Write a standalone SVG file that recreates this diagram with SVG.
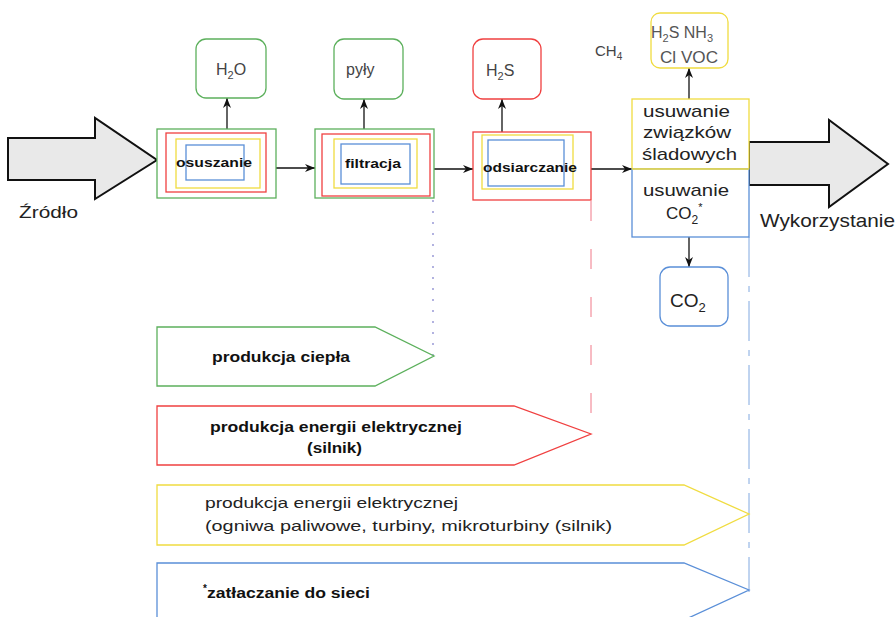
<svg xmlns="http://www.w3.org/2000/svg" width="896" height="617" viewBox="0 0 896 617">
<defs>
<marker id="ah" viewBox="0 0 10 8" refX="10" refY="4" markerWidth="10" markerHeight="8" markerUnits="userSpaceOnUse" orient="auto">
<path d="M0,0 L10,4 L0,8 L3,4 Z" fill="#111"/>
</marker>
</defs>
<style>
text{font-family:"Liberation Sans",Arial,sans-serif;}
.lbl{font-size:16px;fill:#444;}
.bx{font-size:13.5px;font-weight:bold;fill:#111;}
.big{font-size:17px;fill:#222;}
.pb{font-size:14.5px;font-weight:bold;fill:#111;}
.pn{font-size:15px;fill:#222;}
.con{stroke:#111;stroke-width:1.3;fill:none;marker-end:url(#ah);}
.g{stroke:#5cb05c;}
.r{stroke:#f04040;}
.y{stroke:#f0dc40;}
.b{stroke:#5a8fd8;}
rect,polygon{fill:none;stroke-width:1.3;}
.fat{fill:#e9e9e9;stroke:#111;stroke-width:2;}
</style>
<rect x="0" y="0" width="896" height="617" fill="#ffffff"/>
<rect x="8" y="10" width="888" height="607" fill="#f7f7f7" stroke="none"/>

<g id="zrodlo">
<polygon class="fat" points="8,138 95,138 95,118 157,160 95,199 95,180 8,180"/>
<text class="big" x="19" y="218" textLength="59" lengthAdjust="spacingAndGlyphs">Źródło</text>
</g>

<g id="wykorzystanie">
<polygon class="fat" points="749,142 829,142 829,120 888,164 829,207 829,185 749,185"/>
<text class="big" x="760" y="227" textLength="135" lengthAdjust="spacingAndGlyphs" style="font-size:19px">Wykorzystanie</text>
</g>

<g id="connectors">
<path class="con" d="M276,168 H315"/>
<path class="con" d="M434,169 H473"/>
<path class="con" d="M591,169 H632"/>
<path class="con" d="M227,129 V98"/>
<path class="con" d="M364,129 V99"/>
<path class="con" d="M502,132 V99"/>
<path class="con" d="M689,99 V68"/>
<path class="con" d="M689,237 V267"/>
<path d="M433,200 V355" stroke="#8a8ad0" stroke-width="1.3" stroke-dasharray="2 9" fill="none"/>
<path d="M591,201 V434" stroke="#f07888" stroke-width="1" stroke-dasharray="20 28" fill="none"/>
<path d="M749,237 V592" stroke="#80a8e0" stroke-width="1" stroke-dasharray="40 9 6 9" fill="none"/>
</g>

<g id="osuszanie">
<rect x="157" y="129" width="119" height="69" class="g" style="fill:#fff"/>
<rect x="166" y="133" width="100" height="59" class="r"/>
<rect x="176" y="139" width="84" height="49" class="y"/>
<rect x="186" y="145" width="58" height="35" class="b"/>
<text class="bx" x="176" y="167" textLength="76" lengthAdjust="spacingAndGlyphs">osuszanie</text>
</g>

<g id="h2o">
<rect x="196" y="39" width="70" height="59" rx="10" class="g"/>
<text class="lbl" x="216" y="75">H<tspan font-size="11" dy="4">2</tspan><tspan dy="-4">O</tspan></text>
</g>

<g id="filtracja">
<rect x="315" y="129" width="119" height="69" class="g" style="fill:#fff"/>
<rect x="322" y="134" width="108" height="62" class="r"/>
<rect x="334" y="139" width="83" height="49" class="y"/>
<rect x="341" y="144" width="69" height="40" class="b"/>
<text class="bx" x="345" y="168" textLength="56" lengthAdjust="spacingAndGlyphs">filtracja</text>
</g>

<g id="pyly">
<rect x="334" y="39" width="69" height="60" rx="10" class="g"/>
<text class="lbl" x="346" y="75">pyły</text>
</g>

<g id="odsiarczanie">
<rect x="473" y="132" width="118" height="68" class="r" style="fill:#fff"/>
<rect x="482" y="135" width="91" height="54" class="y"/>
<rect x="488" y="140" width="76" height="46" class="b"/>
<text class="bx" x="483" y="172" textLength="94" lengthAdjust="spacingAndGlyphs">odsiarczanie</text>
</g>

<g id="h2s">
<rect x="473" y="39" width="68" height="60" rx="10" class="r"/>
<text class="lbl" x="486" y="76">H<tspan font-size="11" dy="4">2</tspan><tspan dy="-4">S</tspan></text>
</g>

<g id="ch4">
<text x="595" y="56" style="font-size:15px;fill:#444">CH<tspan font-size="10" dy="4">4</tspan></text>
</g>

<g id="sladowe">
<rect x="651" y="13" width="77" height="55" rx="9" class="y"/>
<text x="651" y="38" style="font-size:16px;fill:#555">H<tspan font-size="11" dy="4">2</tspan><tspan dy="-4">S NH</tspan><tspan font-size="11" dy="4">3</tspan></text>
<text x="660" y="63" style="font-size:16px;fill:#555" textLength="58" lengthAdjust="spacingAndGlyphs">Cl VOC</text>
</g>

<g id="usuwanie">
<rect x="632" y="99" width="117" height="70" class="y" style="fill:#fff"/>
<rect x="632" y="169" width="117" height="68" class="b" style="fill:#fff"/>
<path d="M632,169 H749" stroke="#f0dc40" stroke-width="1.3"/>
<text class="big" x="643" y="117" textLength="87" lengthAdjust="spacingAndGlyphs">usuwanie</text>
<text class="big" x="643" y="138" textLength="88" lengthAdjust="spacingAndGlyphs">związków</text>
<text class="big" x="642" y="160" textLength="95" lengthAdjust="spacingAndGlyphs">śladowych</text>
<text class="big" x="643" y="196" textLength="86" lengthAdjust="spacingAndGlyphs">usuwanie</text>
<text class="big" x="666" y="219">CO<tspan font-size="12" dy="5">2</tspan><tspan font-size="11" dy="-13">*</tspan></text>
</g>

<g id="co2">
<rect x="660" y="267" width="68" height="59" rx="10" class="b"/>
<text x="670" y="307" style="font-size:19px;fill:#222">CO<tspan font-size="13" dy="5">2</tspan></text>
</g>

<g id="cieplo">
<polygon points="157,327 375,327 434,356 375,386 157,386" class="g"/>
<text class="pb" x="212" y="362" textLength="138" lengthAdjust="spacingAndGlyphs">produkcja ciepła</text>
</g>

<g id="energia-silnik">
<polygon points="157,406 514,406 591,434 514,465 157,465" class="r"/>
<text class="pb" x="210" y="432" textLength="252" lengthAdjust="spacingAndGlyphs">produkcja energii elektrycznej</text>
<text class="pb" x="307" y="453" textLength="55" lengthAdjust="spacingAndGlyphs">(silnik)</text>
</g>

<g id="energia-ogniwa">
<polygon points="157,485 684,485 749,514 684,545 157,545" class="y"/>
<text class="pn" x="205" y="508" textLength="253" lengthAdjust="spacingAndGlyphs">produkcja energii elektrycznej</text>
<text class="pn" x="205" y="531" textLength="407" lengthAdjust="spacingAndGlyphs">(ogniwa paliwowe, turbiny, mikroturbiny (silnik)</text>
</g>

<g id="siec">
<polygon points="157,563 684,563 749,590 684,620 157,620" class="b"/>
<text class="pb" x="203" y="598"><tspan font-size="10" dy="-6">*</tspan><tspan dy="6" textLength="163" lengthAdjust="spacingAndGlyphs">zatłaczanie do sieci</tspan></text>
</g>
</svg>
